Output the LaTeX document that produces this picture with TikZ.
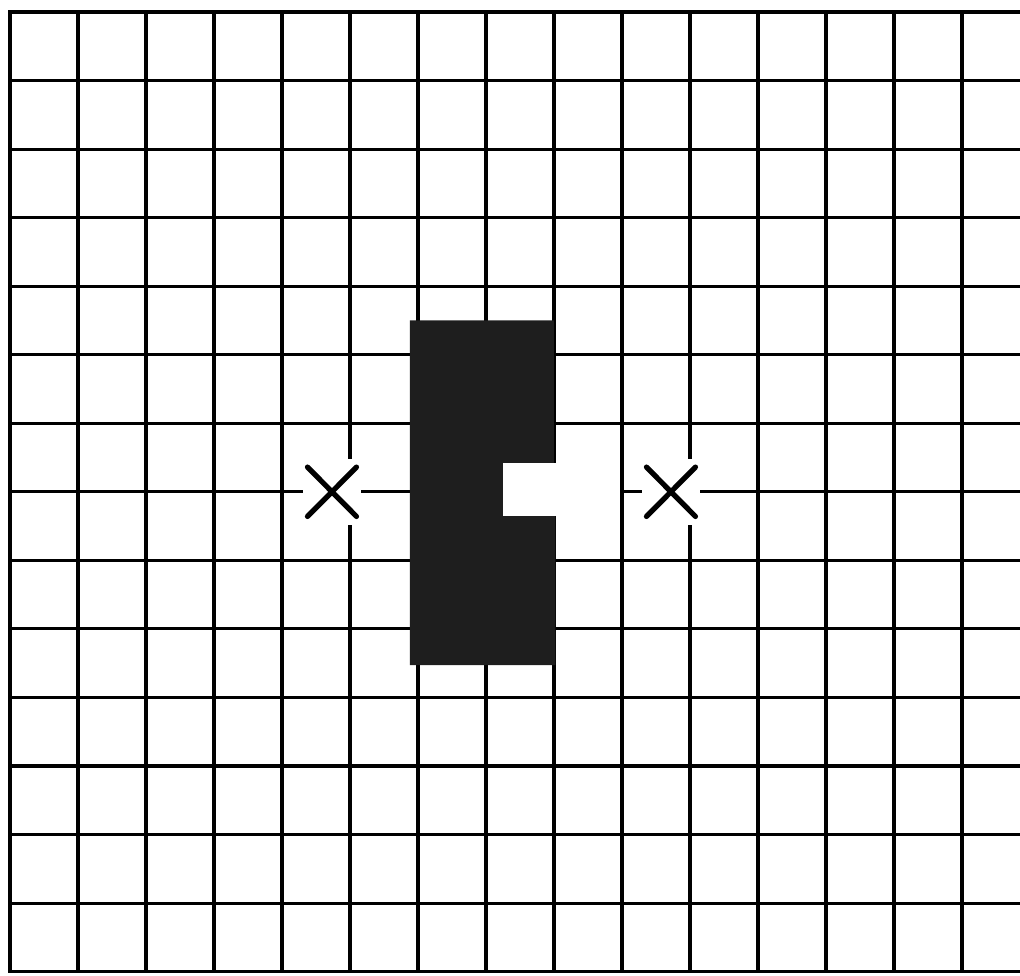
\documentclass[tikz,border=0pt]{standalone}
\usepackage{xcolor}
\usepackage{tikz}
\usetikzlibrary{calc}
\definecolor{Ink}{HTML}{1E1E1E}
\begin{document}
\begin{tikzpicture}[x=1cm,y=1.008cm,
  gridline/.style={line width=1.3pt,color=black,line cap=rect},
  xmark/.style={line width=2.2pt,color=black,line cap=round},
  halo/.style={fill=white}]
  \useasboundingbox (-0.147,-0.058) rectangle (14.853,14.175);
  \clip (-0.147,-0.058) rectangle (14.853,14.175);
  % squared paper
  \foreach \i in {0,...,14} \draw[gridline] (\i,0) -- (\i,14);
  \foreach \j in {0,...,14} \draw[gridline] (0,\j) -- (15.3,\j);
  % notched block
  \fill[Ink] (5.88,9.5) -- (8.0,9.5) -- (8.0,7.42) -- (7.25,7.42)
    -- (7.25,6.65) -- (8.02,6.65) -- (8.02,4.47) -- (5.88,4.47) -- cycle;
  % the notch is clear of grid, and so is the line out of it
  \fill[halo] (7.25,6.65) rectangle (8.06,7.42);
  \fill[halo] (8.0,6.95) rectangle (8.97,7.05);
  % crosses, with a clear gap in the grid round them
  \foreach \cx in {4.735,9.72}{
    \fill[halo] (\cx-0.43,6.52) rectangle (\cx+0.43,7.48);
    \draw[xmark] (\cx-0.36,6.64) -- (\cx+0.36,7.36);
    \draw[xmark] (\cx-0.36,7.36) -- (\cx+0.36,6.64);
  }
\end{tikzpicture}
\end{document}
